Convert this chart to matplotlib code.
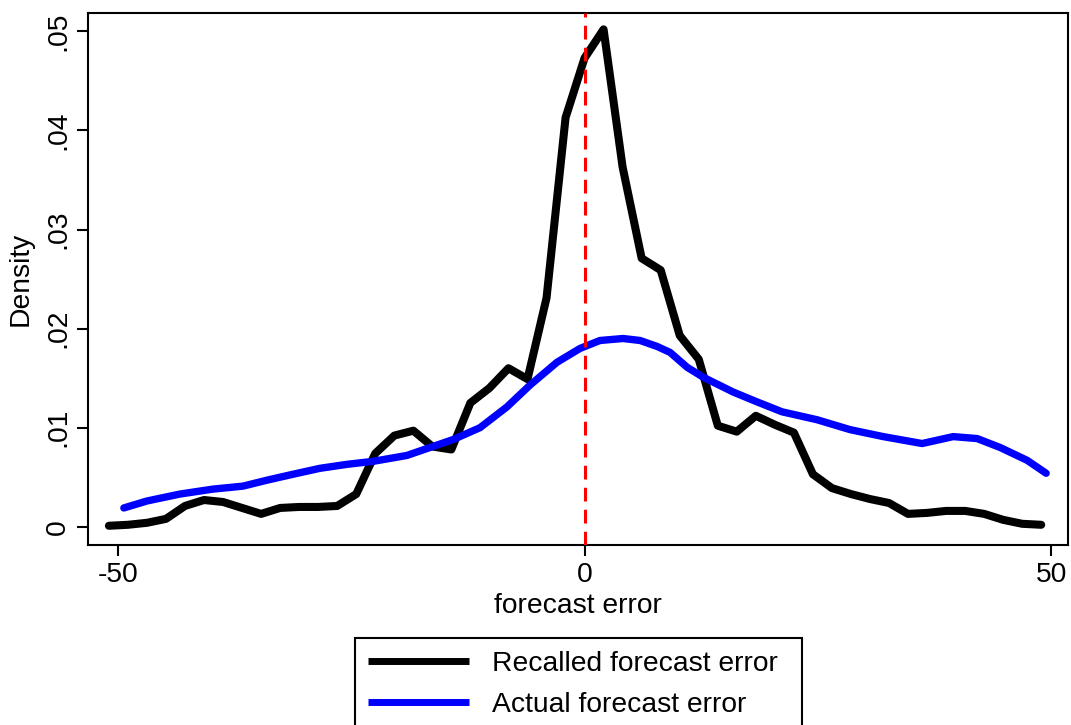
import matplotlib
matplotlib.use("Agg")
import matplotlib.pyplot as plt

plt.rcParams["font.family"] = ["Liberation Sans", "DejaVu Sans"]

# Kernel density estimates of the forecast error
recalled_x = [-50.96, -48.92, -46.88, -44.84, -42.81, -40.77, -38.73, -36.69, -34.65, -32.61,
              -30.57, -28.54, -26.50, -24.46, -22.42, -20.38, -18.34, -16.31, -14.27, -12.23,
              -10.19, -8.15, -6.11, -4.07, -2.03, 0.00, 2.04, 4.08, 6.12, 8.16,
              10.20, 12.24, 14.28, 16.31, 18.35, 20.39, 22.43, 24.47, 26.51, 28.55,
              30.58, 32.62, 34.66, 36.70, 38.74, 40.78, 42.82, 44.85, 46.89, 48.93]
recalled_density = [0.0001, 0.0002, 0.0004, 0.0008, 0.0021, 0.0027, 0.0025, 0.0019, 0.0013, 0.0019,
                    0.0020, 0.0020, 0.0021, 0.0033, 0.0074, 0.0092, 0.0097, 0.0081, 0.0078, 0.0125,
                    0.0140, 0.0160, 0.0149, 0.0231, 0.0413, 0.0473, 0.0502, 0.0363, 0.0271, 0.0259,
                    0.0193, 0.0169, 0.0102, 0.0096, 0.0112, 0.0103, 0.0095, 0.0053, 0.0039, 0.0033,
                    0.0028, 0.0024, 0.0013, 0.0014, 0.0016, 0.0016, 0.0013, 0.0007, 0.0003, 0.0002]

actual_x = [-49.36, -46.89, -43.36, -39.82, -36.60, -34.03, -31.24, -28.35, -25.45, -22.67,
            -19.02, -16.56, -14.09, -11.20, -8.31, -5.84, -2.95, -0.48, 1.66, 4.13,
            5.95, 7.77, 9.16, 10.99, 12.70, 15.92, 18.49, 21.17, 24.92, 28.46,
            32.00, 36.17, 39.50, 42.07, 44.53, 47.43, 49.46]
actual_density = [0.0019, 0.0026, 0.0033, 0.0038, 0.0041, 0.0047, 0.0053, 0.0059, 0.0063, 0.0066,
                  0.0072, 0.0080, 0.0088, 0.0100, 0.0121, 0.0143, 0.0166, 0.0180, 0.0188, 0.0190,
                  0.0188, 0.0182, 0.0176, 0.0161, 0.0151, 0.0136, 0.0126, 0.0116, 0.0108, 0.0098,
                  0.0091, 0.0084, 0.0091, 0.0089, 0.0080, 0.0067, 0.0054]

x_ticks = [-50, 0, 50]
x_tick_labels = ["-50", "0", "50"]
y_ticks = [0, 0.01, 0.02, 0.03, 0.04, 0.05]
y_tick_labels = ["0", ".01", ".02", ".03", ".04", ".05"]

W, H = 1071, 725
fig = plt.figure(figsize=(W / 100, H / 100), dpi=100)
ax = fig.add_axes([88 / W, 1 - 545 / H, 980 / W, 532 / H])

ax.plot(recalled_x, recalled_density, color="black", lw=5.8,
        solid_capstyle="round", solid_joinstyle="round",
        label="Recalled forecast error", zorder=3)
ax.plot(actual_x, actual_density, color="#0000ff", lw=5.3,
        solid_capstyle="round", solid_joinstyle="round",
        label="Actual forecast error", zorder=4)
ax.axvline(0, color="#ff0000", lw=2.2, dashes=(4.5, 2.7), zorder=5)

ax.set_xlim(-53.2, 51.8)
ax.set_ylim(-0.00184, 0.05185)

ax.set_xticks(x_ticks)
ax.set_xticklabels(x_tick_labels)
ax.set_yticks(y_ticks)
ax.set_yticklabels(y_tick_labels, rotation=90, va="center")

fs = 20.3
ax.tick_params(axis="both", direction="out", length=8, width=1.5,
               color="black", labelsize=fs)
ax.tick_params(axis="x", pad=4)
ax.tick_params(axis="y", pad=4)
for sp in ax.spines.values():
    sp.set_linewidth(1.5)
    sp.set_color("black")

ax.set_xlabel("forecast error", fontsize=fs)
ax.set_ylabel("Density", fontsize=fs)
ax.xaxis.set_label_coords(0.5, -0.09)
ax.yaxis.set_label_coords(-0.055, 0.5)

leg_top = 1 - 638 / H
leg = fig.legend(loc="upper left",
                 bbox_to_anchor=(355 / W, leg_top - 0.3, 447 / W, 0.3),
                 bbox_transform=fig.transFigure, mode="expand",
                 borderaxespad=0, fontsize=fs, frameon=True, fancybox=False,
                 shadow=False, framealpha=1, edgecolor="black",
                 handlelength=3.6, handletextpad=0.8, borderpad=0.45,
                 labelspacing=0.55)
leg.get_frame().set_linewidth(1.5)
for line in leg.get_lines():
    line.set_linewidth(5.0)
    line.set_solid_capstyle("butt")

fig.savefig("out.png", dpi=100)
